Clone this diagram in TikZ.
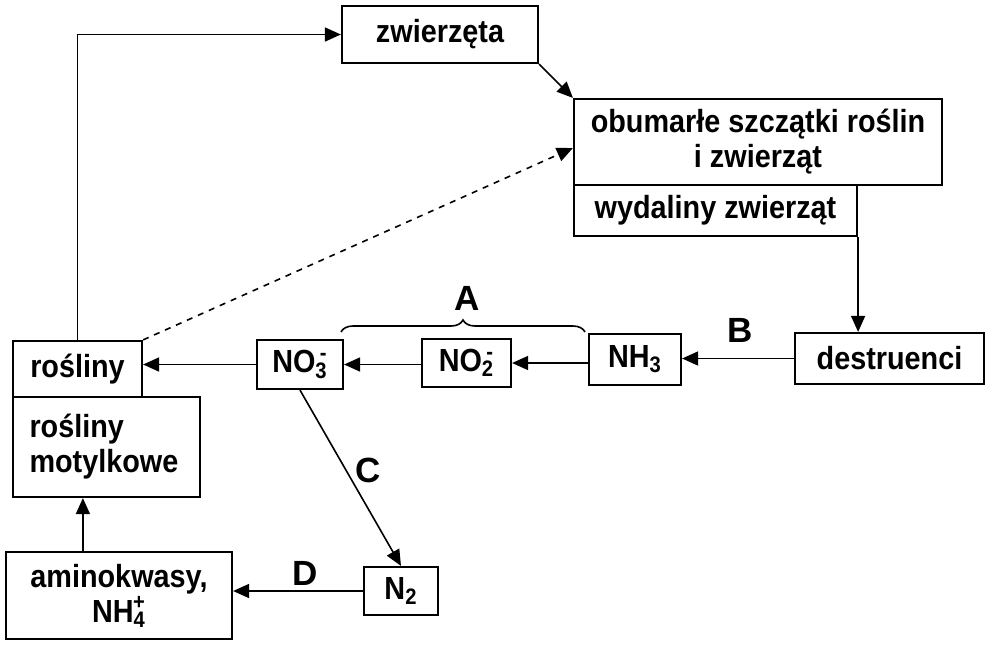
\documentclass[tikz,border=0pt]{standalone}
\usepackage{fontspec}
\setmainfont{Liberation Sans}[FakeStretch=0.9]
\newfontfamily\lblfont{Liberation Sans}
\usetikzlibrary{arrows.meta,decorations.pathreplacing}
\newcommand{\ionsub}[2]{\textsubscript{#1}\llap{\textsuperscript{#2}}}

\begin{document}
\begin{tikzpicture}[x=0.5pt,y=-0.5pt,
  font=\fontsize{16}{17.5}\selectfont\bfseries,
  box/.style={draw, line width=1.1pt, inner sep=0pt, align=center},
  lbl/.style={font=\fontsize{17.5}{20}\lblfont\bfseries},
  arr/.style={-{Triangle[length=8pt,width=7pt]}, line width=0.8pt}]
\useasboundingbox (0,0) rectangle (991,644);
% boxes
\node[box, minimum width=98pt, minimum height=28.5pt] (zw) at (440,34.5) {zwierzęta};
\node[box, minimum width=184pt, minimum height=43pt] (ob) at (758,142) {obumarłe szczątki roślin\\i zwierząt};
\node[box, minimum width=141.5pt, minimum height=25.5pt] (wy) at (715.5,210.5) {wydaliny zwierząt};
\node[box, minimum width=94.5pt, minimum height=25.5pt] (de) at (889.5,358.5) {destruenci};
\node[box, minimum width=46pt, minimum height=25.5pt] (nh3) at (635,359.5) {NH\textsubscript{3}};
\node[box, minimum width=44.5pt, minimum height=24pt] (no2) at (466.5,363) {NO\ionsub{2}{-}};
\node[box, minimum width=43pt, minimum height=24.5pt] (no3) at (300,364.5) {NO\ionsub{3}{-}};
\node[box, minimum width=64.5pt, minimum height=28pt] (ro) at (77.5,369) {rośliny};
\node[box, minimum width=93.5pt, minimum height=50pt, inner xsep=8pt, text width=77pt, align=left] (mo) at (106.5,447) {rośliny\\motylkowe};
\node[box, minimum width=113pt, minimum height=43.5pt] (am) at (119,595.5) {aminokwasy,\\NH\ionsub{4}{+}};
\node[box, minimum width=37pt, minimum height=24pt] (n2) at (401,591) {N\textsubscript{2}};
% labels
\node[lbl] (la) at (467,298) {A};
\node[lbl] (lb) at (740,330) {B};
\node[lbl] (lc) at (368,470) {C};
\node[lbl] (ld) at (305,573) {D};
% brace
\coordinate (ba) at (341,332);
\coordinate (bb) at (585,332);
\draw[line width=0.8pt, decorate, decoration={brace, amplitude=6pt}] (ba) -- (bb);
% arrows
\draw[arr] (ro.north) |- (zw.west);
\draw[arr] (zw.south east) -- (ob.north west);
\draw[arr, dashed] (ro.north east) -- ([yshift=-3pt]ob.west);
\draw[arr] (wy.south east) -- (wy.south east |- de.north);
\draw[arr] (de.west) -- (de.west -| nh3.east);
\draw[arr] (no2.east -| nh3.west) -- (no2.east);
\draw[arr] (no3.east -| no2.west) -- (no3.east);
\draw[arr] (no3.west) -- (no3.west -| ro.east);
\draw[arr] (no3.south) -- (n2.north);
\draw[arr] (n2.west) -- (n2.west -| am.east);
\coordinate (amup) at ([xshift=39pt]am.north west);
\draw[arr] (amup) -- (amup |- mo.south);
\end{tikzpicture}
\end{document}
